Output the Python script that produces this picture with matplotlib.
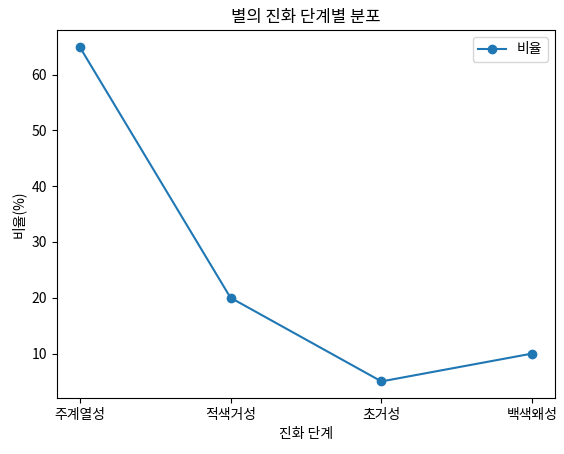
import matplotlib
matplotlib.use('Agg')
import matplotlib.pyplot as plt
plt.rcParams['font.family'] = ['Noto Sans CJK KR', 'DejaVu Sans']

stages = ['주계열성', '적색거성', '초거성', '백색왜성']
ratios = [65, 20, 5, 10]

fig, ax = plt.subplots(figsize=(5.64, 4.54), dpi=100)
ax.plot(stages, ratios, marker='o', label='비율')
ax.set_title('별의 진화 단계별 분포')
ax.set_xlabel('진화 단계')
ax.set_ylabel('비율(%)')
ax.legend()
fig.subplots_adjust(left=0.101, right=0.984, top=0.934, bottom=0.123)
fig.savefig('out.png')
